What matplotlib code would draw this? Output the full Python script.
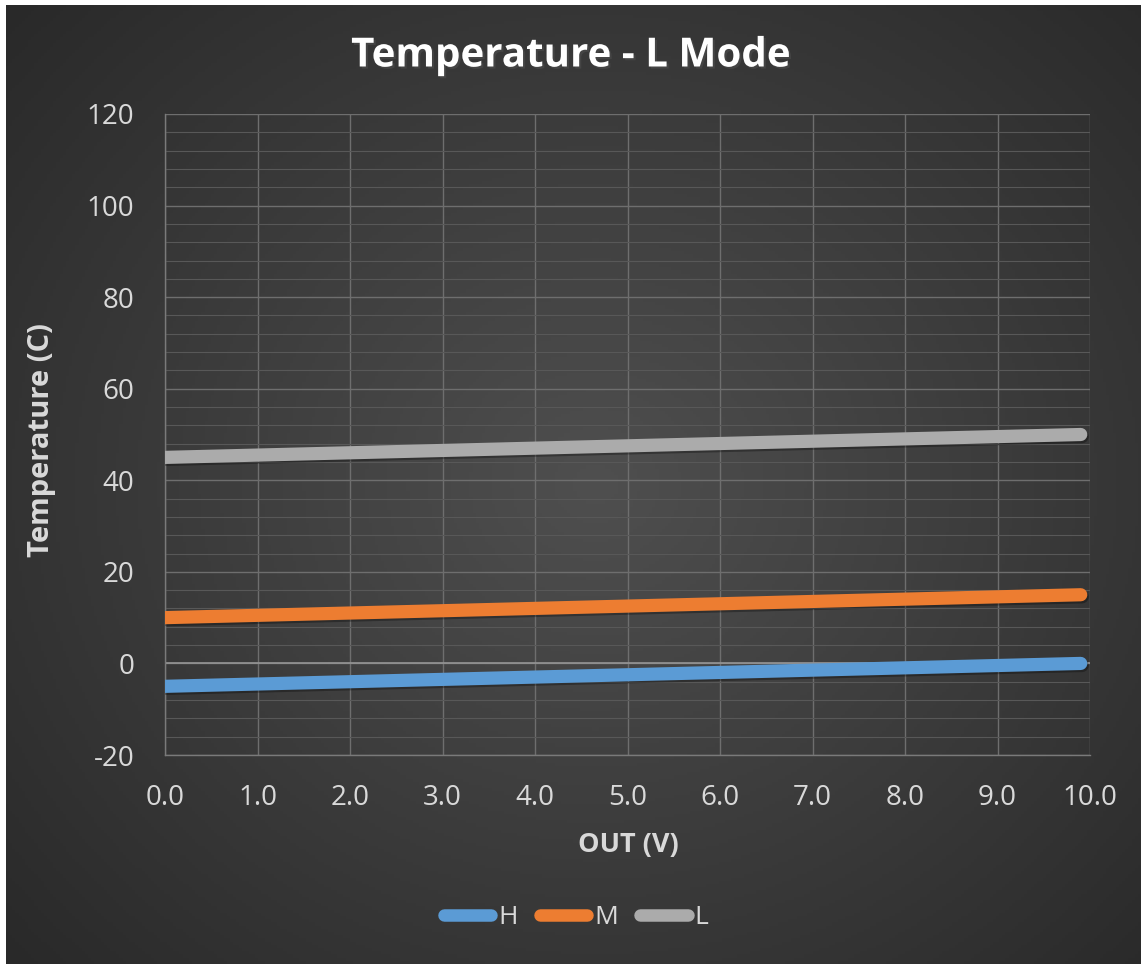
import numpy as np
import matplotlib
matplotlib.use("Agg")
import matplotlib.pyplot as plt
import matplotlib.patheffects as pe
from matplotlib.ticker import MultipleLocator, FormatStrFormatter

# ==============================
# DATA
# ==============================

out_v = [0.0, 9.9]
temp_h = [-5.0, 0.0]
temp_m = [10.0, 15.0]
temp_l = [45.0, 50.0]

series_names = ["H", "M", "L"]
series_colors = ["#5B9BD5", "#ED7D31", "#ABABAB"]

plt.rcParams["font.family"] = ["Open Sans", "DejaVu Sans"]
plt.rcParams["axes.unicode_minus"] = False

W, H = 1141, 964
fig = plt.figure(figsize=(W / 100, H / 100), dpi=100)
fig.patch.set_facecolor("white")

# ==============================
# BACKGROUND (radial gradient)
# ==============================

bg = fig.add_axes([6 / W, 0, 1 - 6 / W, 1 - 5 / H])
bg.set_axis_off()
yy, xx = np.mgrid[0:1:300j, 0:1:360j]
r = np.sqrt(((xx - 0.52) / 0.75) ** 2 + ((yy - 0.5) / 0.8) ** 2)
shade = np.clip(0.31 - 0.16 * r, 0.15, 0.31)
bg.imshow(np.dstack([shade, shade, shade]), aspect="auto", extent=[0, 1, 0, 1])

# ==============================
# MAIN PLOT
# ==============================

ax = fig.add_axes([165 / W, 1 - 755 / H, (1090 - 165) / W, (755 - 114) / H])
ax.patch.set_alpha(0)

shadow = [pe.SimpleLineShadow(offset=(1, -1.5), shadow_color="black", alpha=0.3), pe.Normal()]
for ys, name, col in zip([temp_h, temp_m, temp_l], series_names, series_colors):
    ax.plot(out_v, ys, color=col, lw=9.5, solid_capstyle="round", label=name,
            path_effects=shadow, zorder=3)

ax.set_xlim(0, 10)
ax.set_ylim(-20, 120)
ax.xaxis.set_major_locator(MultipleLocator(1))
ax.xaxis.set_major_formatter(FormatStrFormatter("%.1f"))
ax.yaxis.set_major_locator(MultipleLocator(20))
ax.yaxis.set_minor_locator(MultipleLocator(4))

ax.grid(which="major", color="#6e6e6e", lw=1.0)
ax.grid(which="minor", axis="y", color="#585858", lw=0.8)
ax.axhline(0, color="#959595", lw=1.2, zorder=2)

for side in ["top", "right"]:
    ax.spines[side].set_visible(False)
for side in ["left", "bottom"]:
    ax.spines[side].set_color("#7a7a7a")
    ax.spines[side].set_linewidth(1.0)

ax.tick_params(which="both", length=0, labelcolor="#D9D9D9", labelsize=20)
ax.tick_params(axis="y", pad=22)
ax.tick_params(axis="x", pad=21)

fig.text(0.5, 1 - 56 / H, "Temperature - L Mode", ha="center", va="center",
         color="white", fontsize=29, fontweight="bold",
         path_effects=[pe.withSimplePatchShadow(offset=(1.5, -1.5), alpha=0.6)])
fig.text(42 / W, 1 - 440 / H, "Temperature (C)", rotation=90, ha="center", va="center",
         color="#D9D9D9", fontsize=21, fontweight="bold")
fig.text(628 / W, 1 - 845 / H, "OUT (V)", ha="center", va="center",
         color="#D9D9D9", fontsize=19.5, fontweight="bold")

leg = fig.legend(loc="center", bbox_to_anchor=(576 / W, 1 - 918 / H), ncol=3, frameon=False,
                 fontsize=19, labelcolor="#D9D9D9", handlelength=1.8,
                 handletextpad=0.25, columnspacing=0.85)
for line in leg.get_lines():
    line.set_linewidth(9)
    line.set_solid_capstyle("round")
    line.set_path_effects([])

fig.savefig("out.png", dpi=100, facecolor=fig.get_facecolor())
